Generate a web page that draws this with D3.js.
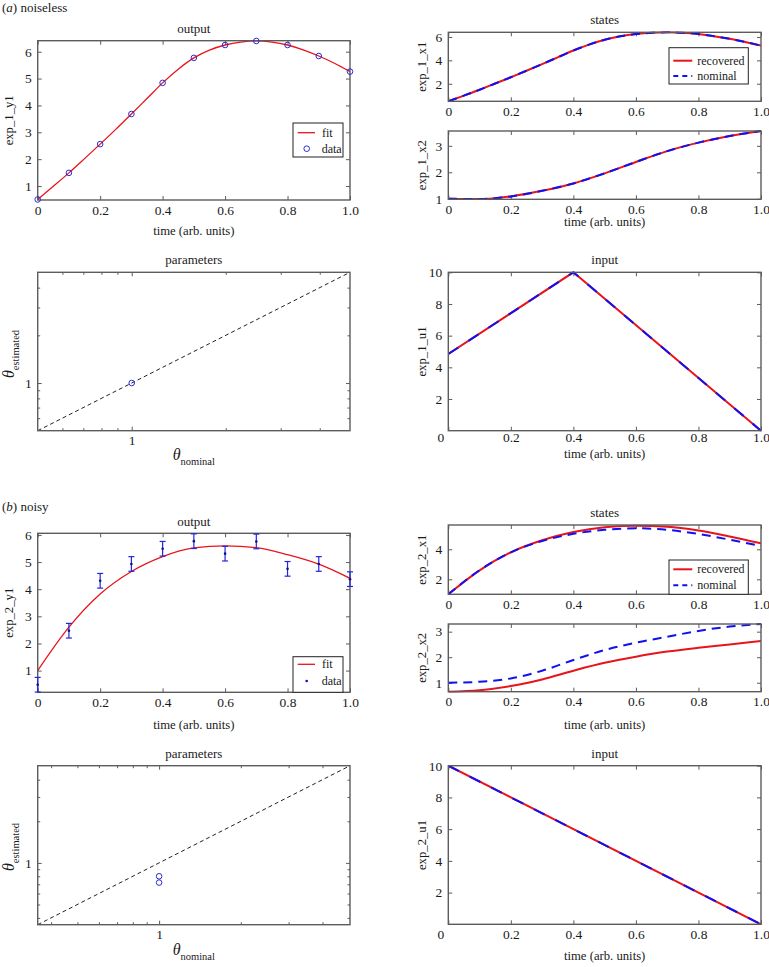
<!DOCTYPE html>
<html><head><meta charset="utf-8">
<script src="https://cdn.jsdelivr.net/npm/d3@7"></script>
<style>
body{margin:0;background:#fff}
svg{display:block}
svg text{font-family:"Liberation Serif","DejaVu Serif",serif !important}
</style>
</head><body>
<svg id="c" width="769" height="967"></svg>
<script>
// ---------- data ----------
const timeCoarse = [0,0.1,0.2,0.3,0.4,0.5,0.6,0.7,0.8,0.9,1.0];
const timeFine = [0,0.05,0.1,0.15,0.2,0.25,0.3,0.35,0.4,0.45,0.5,0.55,0.6,0.65,0.7,0.75,0.8,0.85,0.9,0.95,1.0];
const xTickLabels = ["0","0.2","0.4","0.6","0.8","1.0"];
const xTickValues = [0,0.2,0.4,0.6,0.8,1.0];

// (a) noiseless
const outA_data = [0.50,1.49,2.56,3.68,4.84,5.77,6.25,6.40,6.25,5.84,5.26];
const outA_fit  = [0.50,0.99,1.49,2.02,2.56,3.11,3.68,4.26,4.84,5.35,5.77,6.06,6.25,6.36,6.40,6.36,6.25,6.07,5.84,5.57,5.26];
const x1A_recovered = [0.50,0.99,1.49,2.02,2.56,3.11,3.68,4.26,4.84,5.35,5.77,6.06,6.25,6.36,6.40,6.36,6.25,6.07,5.84,5.57,5.26];
const x1A_nominal   = [0.50,0.99,1.49,2.02,2.56,3.11,3.68,4.26,4.84,5.35,5.77,6.06,6.25,6.36,6.40,6.36,6.25,6.07,5.84,5.57,5.26];
const x2A_recovered = [1.00,0.99,1.09,1.30,1.58,1.96,2.39,2.80,3.12,3.37,3.56];
const x2A_nominal   = [1.00,0.99,1.09,1.30,1.58,1.96,2.39,2.80,3.12,3.37,3.56];
const inputA_t = [0,0.4,1.0];
const inputA_recovered = [4.84,10,0];
const inputA_nominal   = [4.84,10,0];
const paramsA_nominal = [1];
const paramsA_estimated = [1];

// (b) noisy
const outB_data = [0.48,2.47,4.31,4.93,5.49,5.77,5.31,5.76,4.75,4.93,4.37];
const outB_err  = [0.27,0.27,0.27,0.27,0.27,0.27,0.27,0.27,0.27,0.27,0.27];
const outB_fit  = [1.00,2.60,3.82,4.65,5.20,5.52,5.60,5.53,5.27,4.92,4.40];
const x1B_recovered = [1.00,2.60,3.80,4.60,5.15,5.47,5.57,5.51,5.26,4.86,4.40];
const x1B_nominal   = [1.00,2.60,3.80,4.55,5.03,5.30,5.40,5.30,5.02,4.64,4.22];
const x2B_recovered = [0.65,0.71,0.87,1.13,1.47,1.78,2.02,2.22,2.37,2.50,2.63];
const x2B_nominal   = [1.00,1.04,1.17,1.47,1.89,2.28,2.57,2.80,3.03,3.20,3.30];
const inputB_t = [0,1.0];
const inputB_recovered = [10,0];
const inputB_nominal   = [10,0];
const paramsB_nominal = [1,1];
const paramsB_estimated = [0.80,0.72];

const logMinor = [0.4,0.5,0.6,0.7,0.8,0.9,2,3,4];

// ---------- drawing ----------
const svg = d3.select('#c');
const RED = '#e8141c', BLUE = '#1010f0', AX = '#5c5c5c', TXT = '#1a1a1a', MARK = '#2a2ad8';
let clipId = 0;

function panel(o){
  const g = svg.append('g');
  const x = (o.xlog ? d3.scaleLog() : d3.scaleLinear()).domain(o.xd).range([o.x0, o.x1]);
  const y = (o.ylog ? d3.scaleLog() : d3.scaleLinear()).domain(o.yd).range([o.y1, o.y0]);
  const id = 'clip' + (clipId++);
  g.append('clipPath').attr('id', id).append('rect')
    .attr('x', o.x0).attr('y', o.y0 - 1).attr('width', o.x1 - o.x0).attr('height', o.y1 - o.y0 + 2);
  g.append('rect').attr('x', o.x0).attr('y', o.y0).attr('width', o.x1 - o.x0).attr('height', o.y1 - o.y0)
    .attr('fill', '#fff');

  function ax(gen, tx, ty, vals, fmt, size, pad){
    const a = g.append('g').attr('transform', `translate(${tx},${ty})`)
      .call(gen.tickValues(vals).tickFormat(fmt).tickSizeInner(-size).tickSizeOuter(0).tickPadding(pad));
    a.select('.domain').remove();
    a.selectAll('line').attr('stroke', AX).attr('stroke-width', 1);
    a.selectAll('text').attr('font-size', 13.5).attr('fill', TXT);
    return a;
  }
  const xf = o.xlog ? (d => '1') : (d => xTickLabels[xTickValues.indexOf(d)]);
  const xt = o.xlog ? [1] : xTickValues;
  const yt = o.ylog ? [1] : o.yt;
  const yf = o.ylog ? (d => '1') : d3.format('d');
  const bx = ax(d3.axisBottom(x), 0, o.y1, xt, xf, 4, o.xpad != null ? o.xpad : 5);
  if (o.zeroShift) bx.selectAll('text').filter(d => d === 0).attr('dx', -o.zeroShift);
  ax(d3.axisTop(x), 0, o.y0, xt, '', 4, 0);
  ax(d3.axisLeft(y), o.x0, 0, yt, yf, 4, 6);
  ax(d3.axisRight(y), o.x1, 0, yt, '', 4, 0);
  if (o.xlog){
    const mx = logMinor.filter(v => v > o.xd[0] * 1.01 && v < o.xd[1] * 0.99);
    ax(d3.axisBottom(x), 0, o.y1, mx, '', 2.5, 0);
    ax(d3.axisTop(x), 0, o.y0, mx, '', 2.5, 0);
  }
  if (o.ylog){
    const my = logMinor.filter(v => v > o.yd[0] * 1.01 && v < o.yd[1] * 0.99);
    ax(d3.axisLeft(y), o.x0, 0, my, '', 2.5, 0);
    ax(d3.axisRight(y), o.x1, 0, my, '', 2.5, 0);
  }
  const content = g.append('g').attr('clip-path', `url(#${id})`);
  g.append('rect').attr('x', o.x0).attr('y', o.y0).attr('width', o.x1 - o.x0).attr('height', o.y1 - o.y0)
    .attr('fill', 'none').attr('stroke', AX).attr('stroke-width', 1.4);
  const marks = g.append('g');

  if (o.title) svg.append('text').attr('x', (o.x0 + o.x1) / 2).attr('y', o.titleY)
    .attr('text-anchor', 'middle').attr('font-size', 13).attr('fill', TXT).text(o.title);
  if (o.xlabel) svg.append('text').attr('x', (o.x0 + o.x1) / 2).attr('y', o.xlabelY)
    .attr('text-anchor', 'middle').attr('font-size', 12.7).attr('fill', TXT).text(o.xlabel);
  if (o.ylabel) svg.append('text').attr('transform', `translate(${o.ylabelX},${(o.y0 + o.y1) / 2}) rotate(-90)`)
    .attr('text-anchor', 'middle').attr('font-size', 12.7).attr('fill', TXT).text(o.ylabel);
  return {g: content, m: marks, x, y};
}

function line(p, ts, vs, color, w, dash, curve){
  const gen = d3.line().x((d, i) => p.x(ts[i])).y(d => p.y(d)).curve(curve || d3.curveMonotoneX);
  const path = p.g.append('path').datum(vs).attr('d', gen).attr('fill', 'none')
    .attr('stroke', color).attr('stroke-width', w);
  if (dash) path.attr('stroke-dasharray', dash);
  return path;
}

function thetaLabel(x, y, sub, rotate){
  const t = svg.append('text').attr('text-anchor', 'middle').attr('fill', TXT)
    .attr('transform', `translate(${x},${y})` + (rotate ? ' rotate(-90)' : ''));
  t.append('tspan').attr('font-style', 'italic').attr('font-size', 16).text('θ');
  t.append('tspan').attr('font-size', 10.5).attr('dy', 5).text(sub);
}

function legendBox(x, y, w, h){
  svg.append('rect').attr('x', x).attr('y', y).attr('width', w).attr('height', h)
    .attr('fill', '#fff').attr('stroke', '#222').attr('stroke-width', 1);
}
function legendText(x, y, s){
  svg.append('text').attr('x', x).attr('y', y + 4).attr('font-size', 12).attr('fill', TXT).text(s);
}

function section(y, letter, word){
  const t = svg.append('text').attr('x', 2).attr('y', y).attr('font-size', 13).attr('fill', TXT);
  t.append('tspan').text('(');
  t.append('tspan').attr('font-style', 'italic').text(letter);
  t.append('tspan').text(') ' + word);
}
section(12, 'a', 'noiseless');
section(511, 'b', 'noisy');

// ===== (a) output =====
{
  const p = panel({x0: 37.7, x1: 350, y0: 40.7, y1: 200, xd: [0, 1], yd: [0.48, 6.41], yt: [1,2,3,4,5,6],
    title: 'output', titleY: 33, xlabel: 'time (arb. units)', xlabelY: 235, ylabel: 'exp_1_y1', ylabelX: 13});
  line(p, timeFine, outA_fit, RED, 1.3);
  p.m.selectAll('circle').data(outA_data).join('circle').attr('cx', (d, i) => p.x(timeCoarse[i])).attr('cy', d => p.y(d))
    .attr('r', 2.8).attr('fill', 'none').attr('stroke', MARK).attr('stroke-width', 1);
  legendBox(293, 123, 50, 34);
  svg.append('line').attr('x1', 297.7).attr('x2', 315).attr('y1', 132.7).attr('y2', 132.7).attr('stroke', RED).attr('stroke-width', 1.3);
  legendText(322, 132.7, 'fit');
  svg.append('circle').attr('cx', 306.7).attr('cy', 148.7).attr('r', 2.8).attr('fill', 'none').attr('stroke', MARK);
  legendText(321.7, 148.7, 'data');
}
// ===== (a) states x1 =====
{
  const p = panel({x0: 448.3, x1: 761, y0: 32.3, y1: 101.3, xd: [0, 1], yd: [0.5, 6.4], yt: [2,4,6],
    title: 'states', titleY: 24, ylabel: 'exp_1_x1', ylabelX: 426});
  line(p, timeFine, x1A_recovered, RED, 2);
  line(p, timeFine, x1A_nominal, BLUE, 2, '9,6');
  legendBox(669, 47.7, 79.3, 36.3);
  svg.append('line').attr('x1', 673.3).attr('x2', 692.3).attr('y1', 60.7).attr('y2', 60.7).attr('stroke', RED).attr('stroke-width', 2);
  svg.append('line').attr('x1', 673.3).attr('x2', 692.3).attr('y1', 76).attr('y2', 76).attr('stroke', BLUE).attr('stroke-width', 2).attr('stroke-dasharray', '5,4');
  legendText(697.3, 60.7, 'recovered');
  legendText(697.3, 76, 'nominal');
}
// ===== (a) states x2 =====
{
  const p = panel({x0: 448.3, x1: 761, y0: 131, y1: 199.3, xd: [0, 1], yd: [0.98, 3.56], yt: [1,2,3],
    xlabel: 'time (arb. units)', xlabelY: 226, ylabel: 'exp_1_x2', ylabelX: 426});
  line(p, timeCoarse, x2A_recovered, RED, 2);
  line(p, timeCoarse, x2A_nominal, BLUE, 2, '9,6');
}
// ===== (a) parameters =====
{
  const p = panel({x0: 37.7, x1: 350, y0: 272.3, y1: 430.7, xd: [0.5, 5], yd: [0.5, 5], xlog: true, ylog: true,
    title: 'parameters', titleY: 264});
  p.g.append('line').attr('x1', p.x(0.5)).attr('y1', p.y(0.5)).attr('x2', p.x(5)).attr('y2', p.y(5))
    .attr('stroke', '#222').attr('stroke-width', 1).attr('stroke-dasharray', '4,3');
  p.m.selectAll('circle').data(paramsA_estimated).join('circle').attr('cx', (d, i) => p.x(paramsA_nominal[i])).attr('cy', d => p.y(d))
    .attr('r', 2.8).attr('fill', 'none').attr('stroke', MARK);
  thetaLabel(193.8, 460, 'nominal', false);
  thetaLabel(13.5, 354, 'estimated', true);
}
// ===== (a) input =====
{
  const p = panel({x0: 448.3, x1: 761, y0: 272.3, y1: 430.7, xd: [0, 1], yd: [0, 10], yt: [2,4,6,8,10], zeroShift: 8, xpad: 1.5,
    title: 'input', titleY: 264, xlabel: 'time (arb. units)', xlabelY: 458, ylabel: 'exp_1_u1', ylabelX: 426});
  line(p, inputA_t, inputA_recovered, RED, 2, null, d3.curveLinear);
  line(p, inputA_t, inputA_nominal, BLUE, 2, '12,12', d3.curveLinear);
}

// ===== (b) output =====
{
  const p = panel({x0: 37.7, x1: 350, y0: 533.3, y1: 692.3, xd: [0, 1], yd: [0.2, 6.06], yt: [1,2,3,4,5,6],
    title: 'output', titleY: 525.5, xlabel: 'time (arb. units)', xlabelY: 729, ylabel: 'exp_2_y1', ylabelX: 13});
  line(p, timeCoarse, outB_fit, RED, 1.3);
  const EB = '#2525e0';
  const eb = p.m.selectAll('g').data(outB_data).join('g');
  eb.append('line').attr('x1', (d, i) => p.x(timeCoarse[i])).attr('x2', (d, i) => p.x(timeCoarse[i]))
    .attr('y1', (d, i) => p.y(d - outB_err[i])).attr('y2', (d, i) => p.y(d + outB_err[i]))
    .attr('stroke', EB).attr('stroke-width', 1.2);
  eb.append('line').attr('x1', (d, i) => p.x(timeCoarse[i]) - 3).attr('x2', (d, i) => p.x(timeCoarse[i]) + 3)
    .attr('y1', (d, i) => p.y(d - outB_err[i])).attr('y2', (d, i) => p.y(d - outB_err[i]))
    .attr('stroke', EB).attr('stroke-width', 1.2);
  eb.append('line').attr('x1', (d, i) => p.x(timeCoarse[i]) - 3).attr('x2', (d, i) => p.x(timeCoarse[i]) + 3)
    .attr('y1', (d, i) => p.y(d + outB_err[i])).attr('y2', (d, i) => p.y(d + outB_err[i]))
    .attr('stroke', EB).attr('stroke-width', 1.2);
  eb.append('circle').attr('cx', (d, i) => p.x(timeCoarse[i])).attr('cy', d => p.y(d)).attr('r', 1.3).attr('fill', '#101080');
  legendBox(293, 656.7, 50, 35.6);
  svg.append('line').attr('x1', 297.7).attr('x2', 315).attr('y1', 664.3).attr('y2', 664.3).attr('stroke', RED).attr('stroke-width', 1.3);
  legendText(322, 664.3, 'fit');
  svg.append('circle').attr('cx', 306.7).attr('cy', 681).attr('r', 1.3).attr('fill', '#1010c0');
  legendText(321.7, 681, 'data');
}
// ===== (b) states x1 =====
{
  const p = panel({x0: 448.3, x1: 761, y0: 525, y1: 594.3, xd: [0, 1], yd: [1, 5.62], yt: [2,4],
    title: 'states', titleY: 517, ylabel: 'exp_2_x1', ylabelX: 426});
  line(p, timeCoarse, x1B_recovered, RED, 2);
  line(p, timeCoarse, x1B_nominal, BLUE, 2, '9,6');
  legendBox(669, 560, 79.3, 34.3);
  svg.append('line').attr('x1', 673.3).attr('x2', 692.3).attr('y1', 569.3).attr('y2', 569.3).attr('stroke', RED).attr('stroke-width', 2);
  svg.append('line').attr('x1', 673.3).attr('x2', 692.3).attr('y1', 585.3).attr('y2', 585.3).attr('stroke', BLUE).attr('stroke-width', 2).attr('stroke-dasharray', '5,4');
  legendText(697.3, 569.3, 'recovered');
  legendText(697.3, 585.3, 'nominal');
}
// ===== (b) states x2 =====
{
  const p = panel({x0: 448.3, x1: 761, y0: 624, y1: 691.7, xd: [0, 1], yd: [0.65, 3.3], yt: [1,2,3],
    xlabel: 'time (arb. units)', xlabelY: 729, ylabel: 'exp_2_x2', ylabelX: 426});
  line(p, timeCoarse, x2B_recovered, RED, 2);
  line(p, timeCoarse, x2B_nominal, BLUE, 2, '9,6');
}
// ===== (b) parameters =====
{
  const p = panel({x0: 37.7, x1: 350, y0: 765.7, y1: 924.7, xd: [0.357, 5.05], yd: [0.357, 5.05], xlog: true, ylog: true,
    title: 'parameters', titleY: 757.5});
  p.g.append('line').attr('x1', p.x(0.357)).attr('y1', p.y(0.357)).attr('x2', p.x(5.05)).attr('y2', p.y(5.05))
    .attr('stroke', '#222').attr('stroke-width', 1).attr('stroke-dasharray', '4,3');
  p.m.selectAll('circle').data(paramsB_estimated).join('circle').attr('cx', (d, i) => p.x(paramsB_nominal[i])).attr('cy', d => p.y(d))
    .attr('r', 2.8).attr('fill', 'none').attr('stroke', MARK);
  thetaLabel(193.8, 955, 'nominal', false);
  thetaLabel(13.5, 847, 'estimated', true);
}
// ===== (b) input =====
{
  const p = panel({x0: 448.3, x1: 761, y0: 765.7, y1: 924.3, xd: [0, 1], yd: [0, 10], yt: [2,4,6,8,10], zeroShift: 8,
    title: 'input', titleY: 757.5, xlabel: 'time (arb. units)', xlabelY: 960, ylabel: 'exp_2_u1', ylabelX: 426});
  line(p, inputB_t, inputB_recovered, RED, 2, null, d3.curveLinear);
  line(p, inputB_t, inputB_nominal, BLUE, 2, '12,12', d3.curveLinear);
}
</script>
</body></html>
